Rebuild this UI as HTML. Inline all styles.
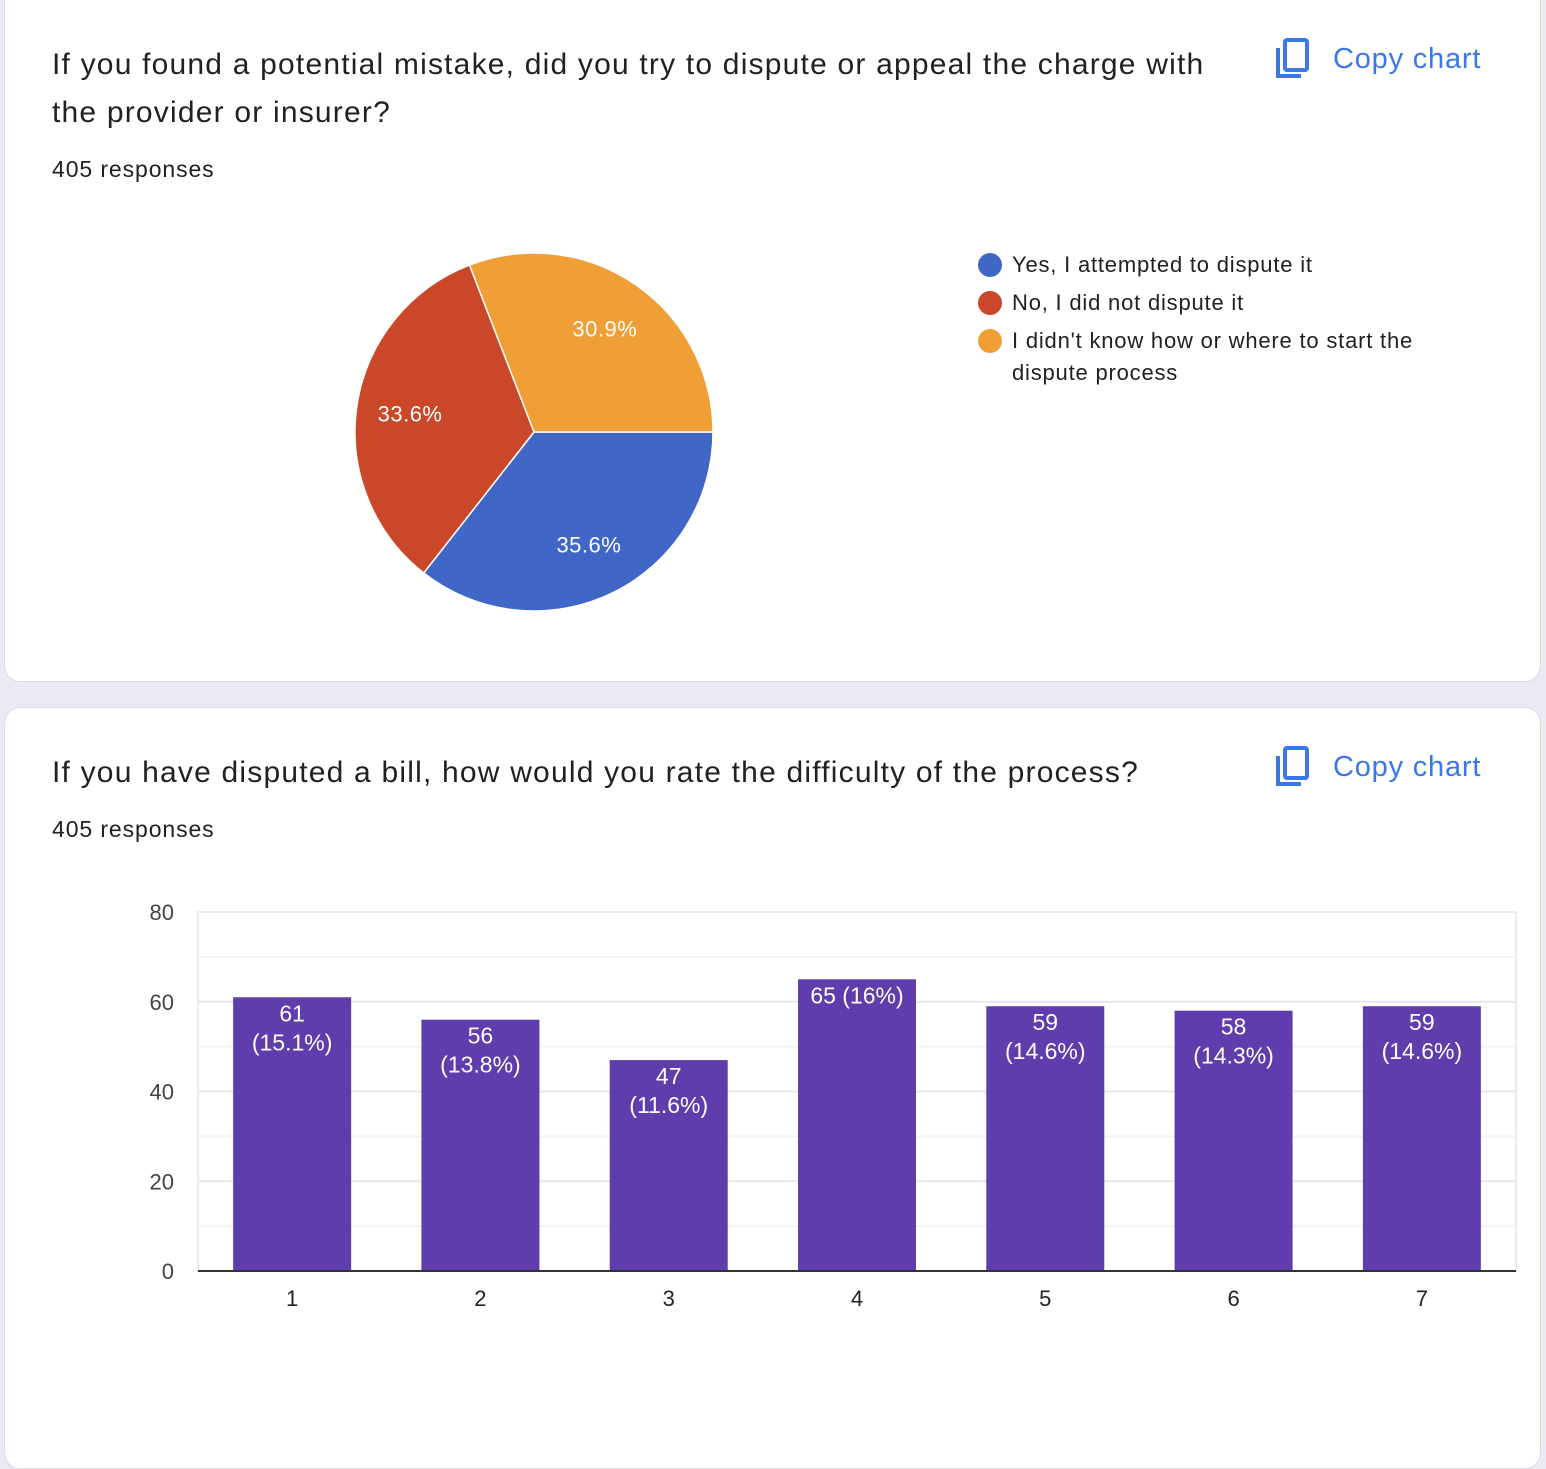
<!DOCTYPE html>
<html><head><meta charset="utf-8">
<style>
body{margin:0;width:1546px;height:1410px;background:#ece9f5;font-family:"Liberation Sans",Arial,sans-serif;overflow:hidden;position:relative}
.card{position:absolute;left:4px;width:1535px;background:#fff;border:1px solid #dadce0;border-radius:16px}
.title{position:absolute;left:47px;font-size:30px;color:#202124;line-height:48px;width:1190px;letter-spacing:1.2px}
.resp{position:absolute;left:47px;font-size:23px;color:#202124;letter-spacing:0.9px}
.copy{position:absolute;left:1270px;display:flex;align-items:center;color:#3b78e7;font-size:29px;letter-spacing:0.8px}
.copy svg{margin-right:22px}
.leg{position:absolute;left:970px;width:450px;font-size:22px;color:#202124;line-height:32px;letter-spacing:0.8px}
.leg div{position:relative;padding-left:37px}
.dot{position:absolute;left:3px;top:4px;width:24px;height:24px;border-radius:50%}
</style></head><body>
<div class="card" style="top:-20px;height:700px">
 <div class="title" style="top:60px">If you found a potential mistake, did you try to dispute or appeal the charge with the provider or insurer?</div>
 <div class="resp" style="top:175px">405 responses</div>
 <div class="copy" style="top:57px"><svg width="36" height="42" viewBox="0 0 36 42"><rect x="10" y="2" width="22" height="30" rx="2" fill="none" stroke="#3b78e7" stroke-width="4"/><path d="M3 10 V38 H26" fill="none" stroke="#3b78e7" stroke-width="4"/></svg>Copy chart</div>
 <svg id="pie" width="600" height="420" style="position:absolute;left:225px;top:251px"></svg>
 <div class="leg" style="top:268px">
  <div><span class="dot" style="background:#4066c6"></span>Yes, I attempted to dispute it</div>
  <div style="margin-top:6px"><span class="dot" style="background:#cb4729"></span>No, I did not dispute it</div>
  <div style="margin-top:6px"><span class="dot" style="background:#f09f37"></span>I didn't know how or where to start the dispute process</div>
 </div>
</div>
<div class="card" style="top:707px;height:760px">
 <div class="title" style="top:41px">If you have disputed a bill, how would you rate the difficulty of the process?</div>
 <div class="resp" style="top:108px">405 responses</div>
 <div class="copy" style="top:38px"><svg width="36" height="42" viewBox="0 0 36 42"><rect x="10" y="2" width="22" height="30" rx="2" fill="none" stroke="#3b78e7" stroke-width="4"/><path d="M3 10 V38 H26" fill="none" stroke="#3b78e7" stroke-width="4"/></svg>Copy chart</div>
</div>
<svg id="bar" width="1546" height="1410" style="position:absolute;left:0;top:0"></svg>
<script>
const pieLabels=["Yes, I attempted to dispute it","No, I did not dispute it","I didn't know how or where to start the dispute process"];
const pieValues=[35.6,33.6,30.9];
const pieColors=["#4066c6","#cb4729","#f09f37"];
const barCategories=["1","2","3","4","5","6","7"];
const barValues=[61,56,47,65,59,58,59];
const barLabels=["61|(15.1%)","56|(13.8%)","47|(11.6%)","65 (16%)","59|(14.6%)","58|(14.3%)","59|(14.6%)"];
const yTicks=[0,20,40,60,80];
const NS="http://www.w3.org/2000/svg";
function mk(p,t,a){const e=document.createElementNS(NS,t);for(const k in a)e.setAttribute(k,a[k]);p.appendChild(e);return e;}
// pie
const pie=document.getElementById('pie');
const cx=304,cy=200,r=179;
const tot=pieValues.reduce((a,b)=>a+b,0);
let a0=0;
pieValues.forEach((v,i)=>{
 const a1=a0+v/tot*2*Math.PI;
 const x0=cx+r*Math.cos(a0),y0=cy+r*Math.sin(a0),x1=cx+r*Math.cos(a1),y1=cy+r*Math.sin(a1);
 const p=mk(pie,'path',{d:`M${cx},${cy}L${x0},${y0}A${r},${r} 0 ${a1-a0>Math.PI?1:0} 1 ${x1},${y1}Z`,fill:pieColors[i],stroke:'#fff','stroke-width':1.5});
 
 
 const am=(a0+a1)/2;
 const t=mk(pie,'text',{x:cx+r*0.7*Math.cos(am),y:cy+r*0.7*Math.sin(am)+8,'text-anchor':'middle',fill:'#fff','font-size':22,'letter-spacing':0.5});
 t.textContent=v.toFixed(1)+'%';
 
 
 a0=a1;
});
// bars
const svg=document.getElementById('bar');
const L=198,R=1516,T=912,B=1271,ymax=80;
const y=v=>B-(v/ymax)*(B-T);
const band=(R-L)/barCategories.length;
const xc=i=>L+band*(i+0.5);
mk(svg,'rect',{x:L,y:T,width:R-L,height:B-T,fill:'none',stroke:'#ececec','stroke-width':2});
for(let v=10;v<ymax;v+=10){mk(svg,'line',{x1:L,x2:R,y1:y(v),y2:y(v),stroke:v%20?'#f3f3f3':'#e8e8e8','stroke-width':2});}
yTicks.forEach(v=>{const t=mk(svg,'text',{x:174,y:y(v)+8,'text-anchor':'end','font-size':22,fill:'#444'});t.textContent=v;
 
 });
barValues.forEach((v,i)=>{
 const w=118;
 const b=mk(svg,'rect',{x:xc(i)-w/2,y:y(v),width:w,height:B-y(v),fill:'#5f3dad'});
 
 
 barLabels[i].split('|').forEach((s,j)=>{const t=mk(svg,'text',{x:xc(i),y:y(v)+24+j*29,'text-anchor':'middle','font-size':23,fill:'#fff'});t.textContent=s;
  
  });
 const t=mk(svg,'text',{x:xc(i),y:B+35,'text-anchor':'middle','font-size':22,fill:'#222'});t.textContent=barCategories[i];
 
 
});
mk(svg,'line',{x1:L,x2:R,y1:B,y2:B,stroke:'#333','stroke-width':2});
</script>
</body></html>
